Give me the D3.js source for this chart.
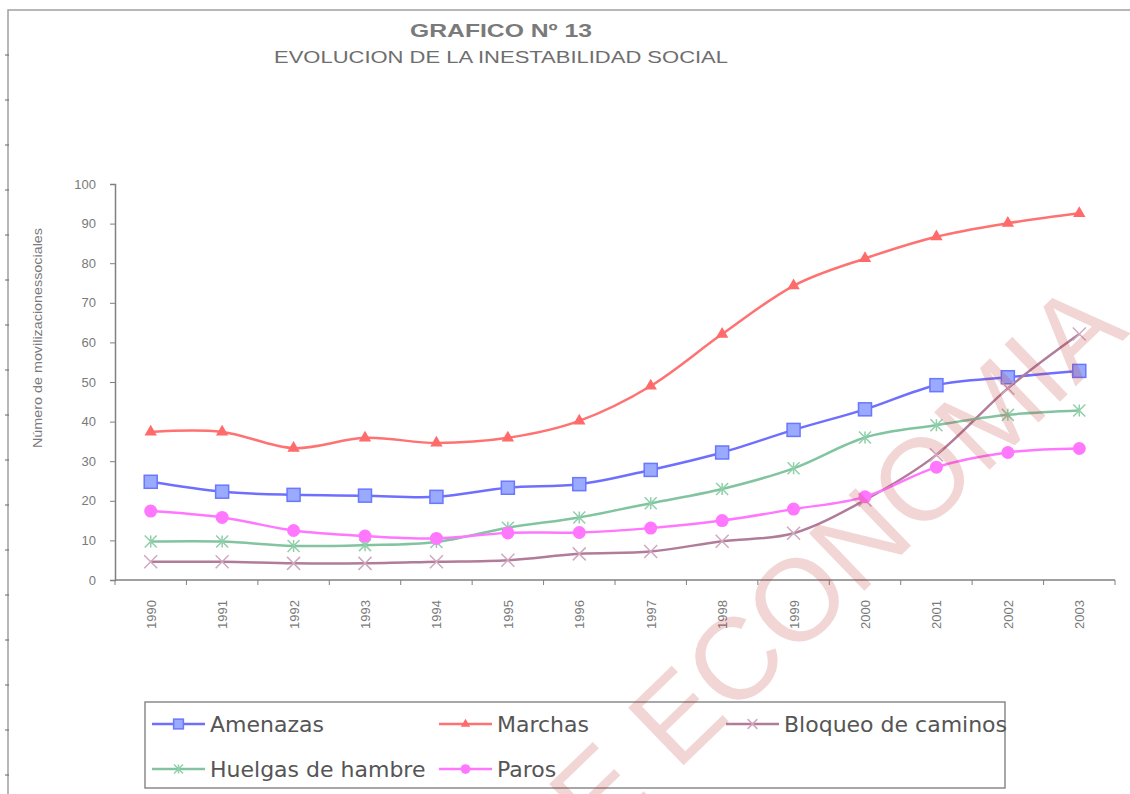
<!DOCTYPE html>
<html>
<head>
<meta charset="utf-8">
<script src="https://cdn.jsdelivr.net/npm/d3@7"></script>
<style>
  body { margin: 0; background: #fff; }
  svg { display: block; }
</style>
</head>
<body>
<svg id="chart" width="1130" height="794"></svg>
<script>
// data
const years = ["1990","1991","1992","1993","1994","1995","1996","1997","1998","1999","2000","2001","2002","2003"];
const amenazas = [24.8, 22.3, 21.5, 21.3, 21.0, 23.3, 24.2, 27.8, 32.2, 37.9, 43.1, 49.2, 51.2, 52.8];
const marchas  = [37.4, 37.4, 33.3, 35.9, 34.6, 35.9, 40.2, 49.0, 62.1, 74.3, 81.2, 86.7, 90.1, 92.6];
const bloqueo  = [4.6, 4.6, 4.2, 4.2, 4.6, 5.0, 6.6, 7.2, 9.8, 11.8, 20.2, 31.6, 48.4, 62.1];
const huelgas  = [9.7, 9.7, 8.6, 8.8, 9.6, 13.2, 15.8, 19.4, 23.0, 28.2, 36.0, 39.1, 41.7, 42.8];
const paros    = [17.4, 15.8, 12.5, 11.1, 10.5, 11.9, 12.0, 13.1, 15.0, 17.9, 21.0, 28.5, 32.2, 33.2];
const yTicks = [0, 10, 20, 30, 40, 50, 60, 70, 80, 90, 100];

const series = [
  {name: "Amenazas", values: amenazas, line: "#6f6fff", fill: "#99aaff", mark: "#6a77ff", shape: "square"},
  {name: "Marchas", values: marchas, line: "#ff7272", fill: "#ff6a6a", mark: "#ff6a6a", shape: "triangle"},
  {name: "Bloqueo de caminos", values: bloqueo, line: "#b07c9a", fill: "none", mark: "#d0a8c0", shape: "cross"},
  {name: "Huelgas de hambre", values: huelgas, line: "#82c4a0", fill: "none", mark: "#8fd0aa", shape: "star"},
  {name: "Paros", values: paros, line: "#ff77ff", fill: "#ff77ff", mark: "#ff77ff", shape: "circle"}
];

const svg = d3.select("#chart");
const grey = "#808080";

// page frame with little marks on the left edge
svg.append("path")
  .attr("d", "M8,794V10H1130")
  .attr("fill", "none").attr("stroke", "#a0a0a0").attr("stroke-width", 1.5);
svg.append("g").selectAll("line")
  .data(d3.range(55, 794, 45))
  .join("line")
  .attr("x1", 5).attr("x2", 9).attr("y1", d => d).attr("y2", d => d)
  .attr("stroke", "#666");

// titles
svg.append("text")
  .attr("x", 501).attr("y", 37)
  .attr("text-anchor", "middle")
  .attr("font-family", "Liberation Sans, Arial, sans-serif")
  .attr("font-weight", "bold").attr("font-size", 19)
  .attr("fill", "#7a7a7a")
  .attr("textLength", 182).attr("lengthAdjust", "spacingAndGlyphs")
  .text("GRAFICO Nº 13");
svg.append("text")
  .attr("x", 501).attr("y", 63)
  .attr("text-anchor", "middle")
  .attr("font-family", "Liberation Sans, Arial, sans-serif")
  .attr("font-size", 17)
  .attr("fill", "#6e6e6e")
  .attr("textLength", 454).attr("lengthAdjust", "spacingAndGlyphs")
  .text("EVOLUCION DE LA INESTABILIDAD SOCIAL");

// scales
const x = d3.scaleBand().domain(years).range([115, 1115]);
const y = d3.scaleLinear().domain([0, 100]).range([580, 184]);
const cx = d => x(d) + x.bandwidth() / 2;

// y axis
const yAxis = svg.append("g")
  .attr("transform", "translate(115,0)")
  .call(d3.axisLeft(y).tickValues(yTicks).tickSize(5).tickPadding(14));
yAxis.select(".domain").attr("stroke", grey).attr("stroke-width", 1.5);
yAxis.selectAll(".tick line").attr("stroke", grey);
yAxis.selectAll(".tick text")
  .attr("fill", "#7a7a7a")
  .attr("font-family", "Liberation Sans, Arial, sans-serif")
  .attr("font-size", 13);

svg.append("text")
  .attr("transform", "translate(42,338) rotate(-90)")
  .attr("text-anchor", "middle")
  .attr("font-family", "Liberation Sans, Arial, sans-serif")
  .attr("font-size", 12)
  .attr("fill", "#7a7a7a")
  .attr("textLength", 220).attr("lengthAdjust", "spacingAndGlyphs")
  .text("Número de movilizacionessociales");

// x axis: ticks sit between categories
const xAxis = svg.append("g").attr("transform", "translate(0,580)");
xAxis.append("line")
  .attr("x1", 115).attr("x2", 1115)
  .attr("stroke", grey).attr("stroke-width", 1.5);
xAxis.selectAll(".tk")
  .data(years.concat(["end"]))
  .join("line")
  .attr("class", "tk")
  .attr("x1", (d, i) => i < years.length ? x(d) : x.range()[1])
  .attr("x2", (d, i) => i < years.length ? x(d) : x.range()[1])
  .attr("y1", 0).attr("y2", 5)
  .attr("stroke", grey);
xAxis.selectAll(".lbl")
  .data(years)
  .join("text")
  .attr("class", "lbl")
  .attr("transform", d => `translate(${cx(d) + 5},20) rotate(-90)`)
  .attr("text-anchor", "end")
  .attr("font-family", "Liberation Sans, Arial, sans-serif")
  .attr("font-size", 13)
  .attr("fill", "#7a7a7a")
  .text(d => d);

// marker shapes
function marker(g, s, size) {
  const h = size / 2;
  if (s.shape === "square") {
    g.append("rect").attr("x", -h).attr("y", -h)
      .attr("width", size).attr("height", size)
      .attr("fill", s.fill).attr("stroke", s.mark).attr("stroke-width", 1.5);
  } else if (s.shape === "triangle") {
    g.append("path").attr("d", d3.symbol(d3.symbolTriangle, size * size * 0.55)())
      .attr("fill", s.fill);
  } else if (s.shape === "circle") {
    g.append("circle").attr("r", h).attr("fill", s.fill);
  } else if (s.shape === "cross") {
    g.append("path").attr("d", `M${-h},${-h}L${h},${h}M${-h},${h}L${h},${-h}`)
      .attr("stroke", s.mark).attr("stroke-width", 1.5);
  } else if (s.shape === "star") {
    g.append("path").attr("d", `M${-h},${-h}L${h},${h}M${-h},${h}L${h},${-h}M0,${-h}V${h}`)
      .attr("stroke", s.mark).attr("stroke-width", 1.5);
  }
}

const sizes = {square: 13, triangle: 11, circle: 13, cross: 13, star: 12};

// lines and markers
const line = d3.line()
  .x((d, i) => cx(years[i]))
  .y(d => y(d))
  .curve(d3.curveCatmullRom.alpha(0));

const plot = svg.append("g");
series.forEach(s => {
  plot.append("path")
    .attr("d", line(s.values))
    .attr("fill", "none")
    .attr("stroke", s.line)
    .attr("stroke-width", 2.5);
});
series.forEach(s => {
  s.values.forEach((v, i) => {
    const g = plot.append("g").attr("transform", `translate(${cx(years[i])},${y(v)})`);
    marker(g, s, sizes[s.shape]);
  });
});

// legend
svg.append("rect")
  .attr("x", 145).attr("y", 702).attr("width", 860).attr("height", 86)
  .attr("fill", "none").attr("stroke", "#8a8a8a").attr("stroke-width", 1.5);

const legend = svg.append("g").selectAll("g")
  .data(series)
  .join("g")
  .attr("transform", (d, i) => `translate(${152 + (i % 3) * 287},${724 + Math.floor(i / 3) * 45})`);
legend.append("line")
  .attr("x1", 0).attr("x2", 53)
  .attr("stroke", d => d.line).attr("stroke-width", 2.5);
legend.each(function(d) {
  const g = d3.select(this).append("g").attr("transform", "translate(26.5,0)");
  marker(g, d, sizes[d.shape] * 0.75);
});
legend.append("text")
  .attr("x", 58).attr("y", 8)
  .attr("font-family", "DejaVu Sans, Verdana, sans-serif")
  .attr("font-size", 22)
  .attr("fill", "#555")
  .text(d => d.name);

// watermark
svg.append("text")
  .attr("transform", "translate(1131,333) rotate(-44)")
  .attr("text-anchor", "end")
  .attr("font-family", "Liberation Sans, Arial, sans-serif")
  .attr("font-size", 116)
  .attr("fill", "#c03030")
  .attr("fill-opacity", 0.2)
  .text("DE ECONOMIA");
</script>
</body>
</html>
